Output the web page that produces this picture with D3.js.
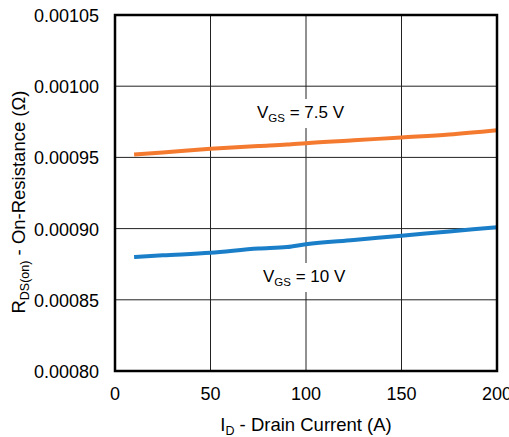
<!DOCTYPE html>
<html>
<head>
<meta charset="utf-8">
<script src="https://cdn.jsdelivr.net/npm/d3@7"></script>
<style>
  body { margin: 0; background: #fff; }
  text { font-family: "Liberation Sans", Arial, sans-serif; fill: #000; }
</style>
</head>
<body>
<div id="chart"></div>
<script>
// data
var currents = [10, 25, 50, 75, 90, 100, 125, 150, 175, 200];
var rdsVgs75 = [0.000952, 0.0009535, 0.000956, 0.000958, 0.000959, 0.000960, 0.000962, 0.000964, 0.000966, 0.000969];
var rdsVgs10 = [0.000880, 0.0008812, 0.000883, 0.000886, 0.000887, 0.000889, 0.000892, 0.000895, 0.000898, 0.000901];
var xTicks = [0, 50, 100, 150, 200];
var yTicks = [0.00080, 0.00085, 0.00090, 0.00095, 0.00100, 0.00105];

var chart = function() {
	'use strict';
	const width = 509, height = 437;
	const margin = { top: 15, right: 12, bottom: 66, left: 115 };
	const innerW = width - margin.left - margin.right;
	const innerH = height - margin.top - margin.bottom;

	let svg = d3.select('#chart').append('svg')
		.attr('width', width)
		.attr('height', height);
	let g = svg.append('g')
		.attr('transform', 'translate(' + margin.left + ',' + margin.top + ')');

	let x = d3.scaleLinear().domain([0, 200]).range([0, innerW]);
	let y = d3.scaleLinear().domain([0.00080, 0.00105]).range([innerH, 0]);

	// grid lines
	g.selectAll('.vgrid').data(xTicks.slice(1, -1)).enter().append('line')
		.attr('x1', d => x(d)).attr('x2', d => x(d))
		.attr('y1', 0).attr('y2', innerH)
		.style('stroke', '#222').style('stroke-width', 1);
	g.selectAll('.hgrid').data(yTicks.slice(1, -1)).enter().append('line')
		.attr('x1', 0).attr('x2', innerW)
		.attr('y1', d => y(d)).attr('y2', d => y(d))
		.style('stroke', '#222').style('stroke-width', 1);

	// tick labels (the last x label is clipped at the edge, as in the original)
	g.selectAll('.xlab').data(xTicks).enter().append('text')
		.attr('x', d => x(d)).attr('y', innerH + 29)
		.style('text-anchor', 'middle').style('font-size', '18px')
		.text(d => d);
	g.selectAll('.ylab').data(yTicks).enter().append('text')
		.attr('x', -16).attr('y', d => y(d) + 7)
		.style('text-anchor', 'end').style('font-size', '18px')
		.text(d => d.toFixed(5));

	// curve labels, with a white box that breaks the grid line
	function curveLabel(lx, ly, rest) {
		let box = g.append('rect').style('fill', '#fff');
		let t = g.append('text').attr('x', lx).attr('y', ly).style('font-size', '17px');
		t.append('tspan').text('V');
		t.append('tspan').attr('dy', 4).style('font-size', '11.5px').text('GS');
		t.append('tspan').attr('dy', -4).text(rest);
		let bb = t.node().getBBox();
		box.attr('x', bb.x - 3).attr('y', bb.y - 4)
			.attr('width', bb.width + 6).attr('height', bb.height + 8);
	}
	curveLabel(142, 103, ' = 7.5 V');
	curveLabel(148, 267, ' = 10 V');

	// curves
	let line = d3.line()
		.x((d, i) => x(currents[i]))
		.y(d => y(d))
		.curve(d3.curveMonotoneX);
	g.append('path').datum(rdsVgs75).attr('d', line)
		.style('fill', 'none').style('stroke', '#f47a30').style('stroke-width', 4);
	g.append('path').datum(rdsVgs10).attr('d', line)
		.style('fill', 'none').style('stroke', '#1a7fc8').style('stroke-width', 4);

	// frame
	g.append('rect')
		.attr('width', innerW).attr('height', innerH)
		.style('fill', 'none').style('stroke', '#000').style('stroke-width', 2.5);

	// axis titles
	let xt = svg.append('text')
		.attr('x', margin.left + innerW / 2).attr('y', 431)
		.style('text-anchor', 'middle').style('font-size', '18.5px');
	xt.append('tspan').text('I');
	xt.append('tspan').attr('dy', 4).style('font-size', '12.5px').text('D');
	xt.append('tspan').attr('dy', -4).text(' - Drain Current (A)');

	let yt = svg.append('text')
		.attr('transform', 'translate(25,202) rotate(-90)')
		.style('text-anchor', 'middle').style('font-size', '18.5px');
	yt.append('tspan').text('R');
	yt.append('tspan').attr('dy', 4).style('font-size', '12.5px').text('DS(on)');
	yt.append('tspan').attr('dy', -4).text(' - On-Resistance (\u03A9)');
};
chart();
</script>
</body>
</html>
